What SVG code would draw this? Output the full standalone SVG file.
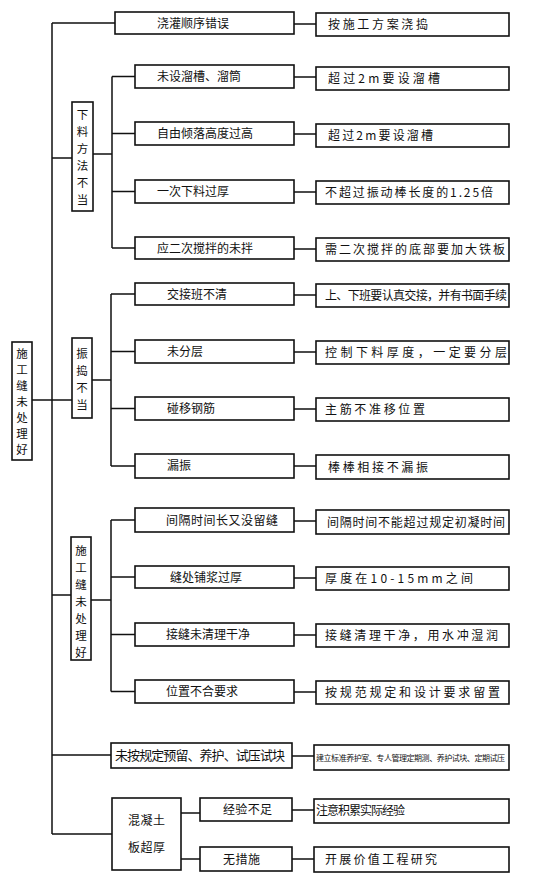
<svg xmlns="http://www.w3.org/2000/svg" width="553" height="885" viewBox="0 0 553 885">
<style>
.b{fill:#fff;stroke:#111;stroke-width:1.6}
.l{fill:none;stroke:#111;stroke-width:1.5}
text{font-family:"Noto Sans CJK SC","Noto Sans",sans-serif;fill:#111;font-size:12px}
.v{text-anchor:middle;font-size:11.5px}
</style>
<rect width="553" height="885" fill="#fff"/>
<g id="connectors" class="l">
<path d="M52 23V834M52 23H115M52 158H72M32 400H72M52 595H71M52 755H111M52 834H112"/>
<path d="M93 154H112M112 76.5V248M112 76.5H135M112 133.5H135M112 191.5H135M112 248H135"/>
<path d="M92 380H111M111 294V466M111 294H135M111 351.5H135M111 408.5H135M111 466H135"/>
<path d="M91 600H111M111 520V691.5M111 520H135M111 577H135M111 634.5H135M111 691.5H135"/>
<path d="M181 813H200M181 859H200"/>
<path d="M294 24H316M294 77H316M294 134H316M294 192H316M294 249H316M294 295H316M294 352H316M294 409H316M294 466H316M294 521H316M294 578H316M294 635H316M294 692H316M292 756H314M292 810H314M292 859H314"/>
</g>
<g id="root"><rect class="b" x="12" y="342" width="20" height="118"/><text class="v"><tspan x="22" y="358">施</tspan><tspan x="22" y="374">工</tspan><tspan x="22" y="390">缝</tspan><tspan x="22" y="406">未</tspan><tspan x="22" y="422">处</tspan><tspan x="22" y="438">理</tspan><tspan x="22" y="454">好</tspan></text></g>
<g id="g1"><rect class="b" x="72" y="102" width="21" height="109"/><text class="v"><tspan x="82.5" y="119">下</tspan><tspan x="82.5" y="136">料</tspan><tspan x="82.5" y="153">方</tspan><tspan x="82.5" y="170">法</tspan><tspan x="82.5" y="187">不</tspan><tspan x="82.5" y="204">当</tspan></text></g>
<g id="g2"><rect class="b" x="72" y="338" width="20" height="80"/><text class="v"><tspan x="82" y="358">振</tspan><tspan x="82" y="375">捣</tspan><tspan x="82" y="392">不</tspan><tspan x="82" y="409">当</tspan></text></g>
<g id="g3"><rect class="b" x="71" y="537" width="20" height="123"/><text class="v"><tspan x="81" y="555">施</tspan><tspan x="81" y="572">工</tspan><tspan x="81" y="589">缝</tspan><tspan x="81" y="606">未</tspan><tspan x="81" y="623">处</tspan><tspan x="81" y="640">理</tspan><tspan x="81" y="657">好</tspan></text></g>
<g id="g4"><rect class="b" x="112" y="798" width="69" height="72"/><text x="128" y="825" textLength="37">混凝土</text><text x="128" y="852" textLength="37">板超厚</text></g>
<g id="n1"><rect class="b" x="115" y="12" width="179" height="22"/><text x="157" y="28">浇灌顺序错误</text></g>
<g id="r1"><rect class="b" x="316" y="13" width="193" height="23"/><text x="328" y="29" textLength="100">按施工方案浇捣</text></g>
<g id="n2"><rect class="b" x="135" y="65" width="159" height="23"/><text x="157" y="81">未设溜槽、溜筒</text></g>
<g id="r2"><rect class="b" x="316" y="67" width="193" height="23"/><text x="328" y="83" textLength="112">超过2m要设溜槽</text></g>
<g id="n3"><rect class="b" x="135" y="122" width="159" height="23"/><text x="157" y="138">自由倾落高度过高</text></g>
<g id="r3"><rect class="b" x="316" y="124" width="193" height="23"/><text x="328" y="140" textLength="105">超过2m要设溜槽</text></g>
<g id="n4"><rect class="b" x="135" y="180" width="159" height="23"/><text x="157" y="196">一次下料过厚</text></g>
<g id="r4"><rect class="b" x="316" y="181" width="193" height="23"/><text x="325" y="197" textLength="168">不超过振动棒长度的1.25倍</text></g>
<g id="n5"><rect class="b" x="135" y="237" width="159" height="22"/><text x="157" y="253">应二次搅拌的未拌</text></g>
<g id="r5"><rect class="b" x="316" y="238" width="193" height="23"/><text x="325" y="254" textLength="180">需二次搅拌的底部要加大铁板</text></g>
<g id="n6"><rect class="b" x="135" y="283" width="159" height="22"/><text x="167" y="299">交接班不清</text></g>
<g id="r6"><rect class="b" x="316" y="284" width="193" height="23"/><text x="325" y="300" textLength="182">上、下班要认真交接，并有书面手续</text></g>
<g id="n7"><rect class="b" x="135" y="340" width="159" height="23"/><text x="167" y="356">未分层</text></g>
<g id="r7"><rect class="b" x="316" y="341" width="193" height="23"/><text x="325" y="357" textLength="182">控制下料厚度，一定要分层</text></g>
<g id="n8"><rect class="b" x="135" y="397" width="159" height="23"/><text x="167" y="413">碰移钢筋</text></g>
<g id="r8"><rect class="b" x="316" y="398" width="193" height="23"/><text x="325" y="414" textLength="100">主筋不准移位置</text></g>
<g id="n9"><rect class="b" x="135" y="454" width="159" height="24"/><text x="167" y="470">漏振</text></g>
<g id="r9"><rect class="b" x="316" y="455" width="193" height="24"/><text x="328" y="472" textLength="100">棒棒相接不漏振</text></g>
<g id="n10"><rect class="b" x="135" y="508" width="159" height="24"/><text x="166" y="525" textLength="112">间隔时间长又没留缝</text></g>
<g id="r10"><rect class="b" x="316" y="510" width="193" height="24"/><text x="327" y="527" textLength="178">间隔时间不能超过规定初凝时间</text></g>
<g id="n11"><rect class="b" x="135" y="566" width="159" height="22"/><text x="170" y="582">缝处铺浆过厚</text></g>
<g id="r11"><rect class="b" x="316" y="567" width="193" height="23"/><text x="325" y="583" textLength="148">厚度在10-15mm之间</text></g>
<g id="n12"><rect class="b" x="135" y="623" width="159" height="23"/><text x="166" y="639">接缝未清理干净</text></g>
<g id="r12"><rect class="b" x="316" y="624" width="193" height="23"/><text x="325" y="640" textLength="173">接缝清理干净，用水冲湿润</text></g>
<g id="n13"><rect class="b" x="135" y="680" width="159" height="23"/><text x="166" y="696">位置不合要求</text></g>
<g id="r13"><rect class="b" x="316" y="681" width="193" height="23"/><text x="325" y="697" textLength="175">按规范规定和设计要求留置</text></g>
<g id="n14"><rect class="b" x="111" y="743" width="181" height="25"/><text x="115" y="760" textLength="170" style="font-size:13px">未按规定预留、养护、试压试块</text></g>
<g id="r14"><rect class="b" x="314" y="745" width="195" height="25"/><text x="316" y="761" textLength="189" style="font-size:8px">建立标准养护室、专人管理定期测、养护试块、定期试压</text></g>
<g id="n15"><rect class="b" x="200" y="798" width="92" height="23"/><text x="223" y="814" textLength="49">经验不足</text></g>
<g id="r15"><rect class="b" x="314" y="799" width="195" height="24"/><text x="316" y="815" textLength="89">注意积累实际经验</text></g>
<g id="n16"><rect class="b" x="200" y="847" width="92" height="24"/><text x="223" y="864" textLength="37">无措施</text></g>
<g id="r16"><rect class="b" x="314" y="847" width="195" height="25"/><text x="325" y="864" textLength="112">开展价值工程研究</text></g>
</svg>
